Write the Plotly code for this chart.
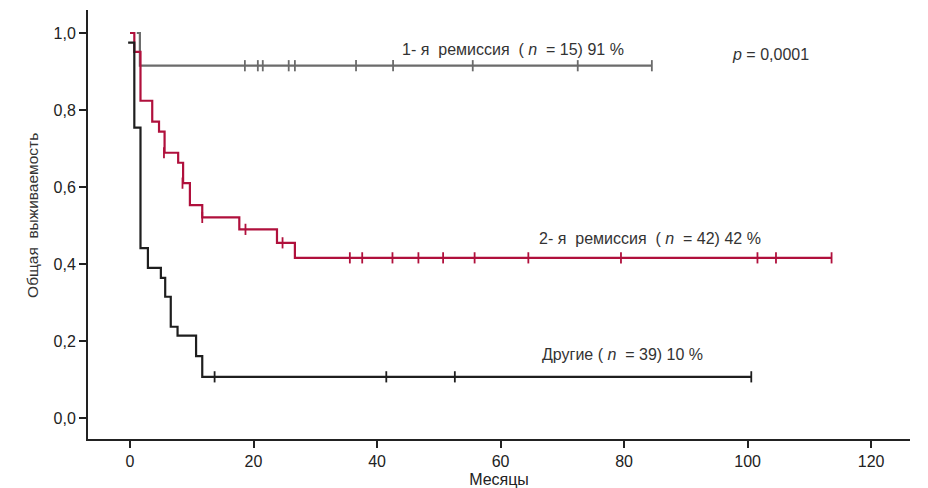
import plotly.graph_objects as go

# Kaplan-Meier step data (months, survival)
grey_x = [1.1, 1.6, 84.5]
grey_y = [1.0, 0.915, 0.915]
grey_cens_x = [18.6, 20.7, 21.5, 25.7, 26.7, 36.6, 42.6, 55.5, 72.5, 84.5]

red_x = [0, 0.7, 1.7, 3.6, 4.7, 5.6, 7.8, 8.6, 9.7, 11.7, 17.7, 23.8, 26.7, 113.6]
red_y = [1.0, 0.951, 0.824, 0.770, 0.744, 0.689, 0.663, 0.610, 0.553, 0.521, 0.490, 0.455, 0.416, 0.416]
red_cens = [(5.5, 0.689), (8.5, 0.610), (11.7, 0.521), (18.7, 0.490), (24.7, 0.455),
            (35.6, 0.416), (37.6, 0.416), (42.5, 0.416), (46.7, 0.416), (50.7, 0.416),
            (55.8, 0.416), (64.5, 0.416), (79.5, 0.416), (101.6, 0.416), (104.6, 0.416), (113.6, 0.416)]

black_x = [-0.3, 0.7, 1.7, 2.9, 5.0, 5.7, 6.6, 7.7, 10.7, 11.7, 100.6]
black_y = [0.975, 0.754, 0.441, 0.390, 0.364, 0.315, 0.237, 0.214, 0.161, 0.107, 0.107]
black_cens_x = [13.7, 41.5, 52.6, 100.6]

x_ticks = [0, 20, 40, 60, 80, 100, 120]
y_ticks = [0.0, 0.2, 0.4, 0.6, 0.8, 1.0]
y_tick_labels = ["0,0", "0,2", "0,4", "0,6", "0,8", "1,0"]

GREY = "#6b6b6b"
RED = "#b0103c"
BLACK = "#1e1e1e"

fig = go.Figure()

def add_curve(xs, ys, color, cx, cy):
    fig.add_trace(go.Scatter(x=xs, y=ys, mode="lines", line=dict(color=color, width=2.2, shape="hv"),
                             hoverinfo="skip", showlegend=False))
    fig.add_trace(go.Scatter(x=cx, y=cy, mode="markers",
                             marker=dict(symbol="line-ns", size=8, line=dict(color=color, width=1.8)),
                             hoverinfo="skip", showlegend=False))

add_curve(grey_x, grey_y, GREY, grey_cens_x, [0.915] * len(grey_cens_x))
add_curve(red_x, red_y, RED, [c[0] for c in red_cens], [c[1] for c in red_cens])
add_curve(black_x, black_y, BLACK, black_cens_x, [0.107] * len(black_cens_x))

ann_font = dict(family="Liberation Sans, Arial, sans-serif", size=16, color="#333333")
annotations = [
    (43.7, 0.958, "1- я  ремиссия  ( <i>n</i>  = 15) 91 %"),
    (65.9, 0.465, "2- я  ремиссия  ( <i>n</i>  = 42) 42 %"),
    (66.4, 0.164, "Другие ( <i>n</i>  = 39) 10 %"),
    (97.2, 0.943, "<i>p</i> = 0,0001"),
]
for ax, ay, t in annotations:
    fig.add_annotation(x=ax, y=ay, text=t, showarrow=False, xanchor="left", yanchor="middle", font=ann_font)

# y axis title as rotated annotation for exact placement
fig.add_annotation(x=-0.0669, y=0.52, xref="paper", yref="paper", text="Общая  выживаемость",
                   textangle=-90, showarrow=False, xanchor="center", yanchor="middle",
                   font=dict(family="Liberation Sans, Arial, sans-serif", size=15.5, color="#333333"))

tick_font = dict(family="Liberation Sans Narrow, Arial Narrow, sans-serif", size=16, color="#222222")

fig.update_layout(
    width=928, height=488,
    margin=dict(l=88, r=18, t=10, b=49),
    paper_bgcolor="white", plot_bgcolor="white",
    xaxis=dict(range=[-6.8, 126.3], tickvals=x_ticks, ticks="outside", ticklen=7, tickwidth=1.5,
               tickcolor="#222", showline=True, linecolor="#222", linewidth=2, showgrid=False,
               zeroline=False, tickfont=tick_font, automargin=False,
               title=dict(text="Месяцы", font=tick_font, standoff=8)),
    yaxis=dict(range=[-0.0545, 1.0597], tickvals=y_ticks, ticktext=y_tick_labels, ticks="outside",
               ticklen=7, tickwidth=1.5, tickcolor="#222", showline=True, linecolor="#222", linewidth=2,
               showgrid=False, zeroline=False, tickfont=tick_font, automargin=False),
)

fig.write_html("out.html")
